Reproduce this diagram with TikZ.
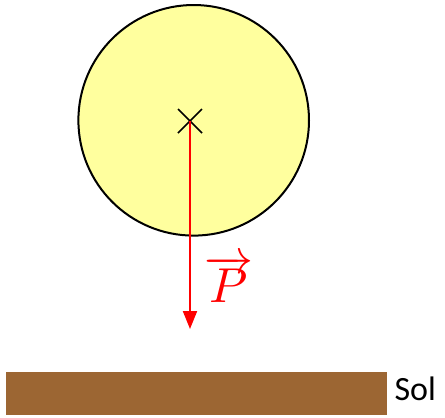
\documentclass[tikz,border=0pt]{standalone}
\usepackage{fontspec}
\setsansfont{Carlito}
\usetikzlibrary{arrows.meta}
\definecolor{boule}{RGB}{255,255,158}
\definecolor{terre}{RGB}{156,102,51}
\begin{document}
\begin{tikzpicture}[x=1pt,y=-1pt]
\useasboundingbox (0,0) rectangle (445,418);
\draw[line width=2pt,fill=boule] (193.7,120.3) circle [radius=115.3];
\coordinate (G) at (190,121);
\coordinate (T) at (190,329);
\draw[line width=1.6pt] (178,109)--(202,133);
\draw[line width=1.6pt] (178,133)--(202,109);
\draw[red,line width=2pt,-{Triangle[length=18pt,width=14pt]}] (G)--(T);
\node[red,scale=4.9] (P) at (229,279) {$\overrightarrow{P}$};
\fill[terre] (6,372) rectangle (387,415);
\node[font=\sffamily\fontsize{34}{38}\selectfont,anchor=west] (sol) at (391,389) {Sol};
\end{tikzpicture}
\end{document}
